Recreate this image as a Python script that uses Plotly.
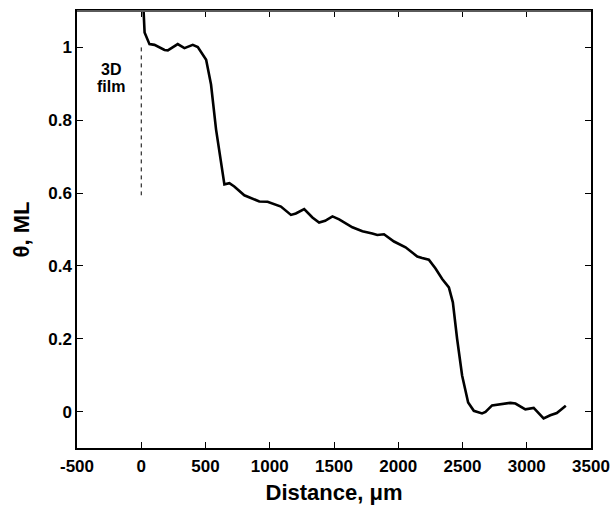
import plotly.graph_objects as go

distance_um = [5, 26, 64, 103, 181, 207, 284, 336, 401, 440, 505, 543, 582, 647, 686, 724,
               802, 867, 919, 983, 1087, 1165, 1203, 1268, 1332, 1384, 1431, 1488, 1540,
               1643, 1721, 1798, 1837, 1889, 1967, 2057, 2148, 2186, 2238, 2290, 2342,
               2394, 2425, 2458, 2497, 2544, 2588, 2652, 2679, 2730, 2795, 2873, 2912,
               2989, 3054, 3131, 3183, 3234, 3304]
theta_ml = [1.20, 1.041, 1.009, 1.007, 0.993, 0.992, 1.009, 0.998, 1.007, 1.001, 0.966,
            0.898, 0.775, 0.624, 0.627, 0.618, 0.594, 0.585, 0.577, 0.576, 0.563, 0.540,
            0.544, 0.556, 0.533, 0.519, 0.524, 0.536, 0.528, 0.506, 0.495, 0.489, 0.485,
            0.487, 0.467, 0.451, 0.426, 0.422, 0.417, 0.393, 0.364, 0.341, 0.300, 0.200,
            0.099, 0.025, 0.002, -0.005, -0.001, 0.017, 0.020, 0.024, 0.022, 0.006, 0.010,
            -0.019, -0.010, -0.004, 0.016]

film_x = [0, 0]
film_y = [1.0, 0.594]
film_lines = ["3D", "film"]
film_line_x = [-238, -238]
film_line_y = [0.939, 0.892]

x_ticks = [-500, 0, 500, 1000, 1500, 2000, 2500, 3000, 3500]
x_ticklabels = ["-500", "0", "500", "1000", "1500", "2000", "2500", "3000", "3500"]
y_ticks = [0, 0.2, 0.4, 0.6, 0.8, 1]
y_ticklabels = ["0", "0.2", "0.4", "0.6", "0.8", "1"]

font_fam = "Liberation Sans"

fig = go.Figure()
fig.add_trace(go.Scatter(x=film_x, y=film_y, mode="lines",
                         line=dict(color="black", width=1, dash="4px,4px"),
                         showlegend=False, hoverinfo="skip"))
fig.add_trace(go.Scatter(x=distance_um, y=theta_ml, mode="lines",
                         line=dict(color="black", width=2.6),
                         showlegend=False))

for txt, ax, ay in zip(film_lines, film_line_x, film_line_y):
    fig.add_annotation(x=ax, y=ay, text=txt, showarrow=False,
                       font=dict(family=font_fam, size=16, color="black", weight="bold"),
                       xanchor="center", yanchor="middle")

axis_font = dict(family=font_fam, size=17, color="black", weight="bold")
title_font = dict(family=font_fam, size=22, color="black", weight="bold")

fig.update_xaxes(range=[-500, 3500], tickvals=x_ticks, ticktext=x_ticklabels,
                 ticks="inside", ticklen=6, ticklabelstandoff=2, automargin=False,
                 tickcolor="black", showline=True, linecolor="black", linewidth=1.5,
                 mirror="ticks", showgrid=False, zeroline=False, tickfont=axis_font,
                 title=dict(text="Distance, μm", font=title_font, standoff=9))
fig.update_yaxes(range=[-0.1, 1.1], tickvals=y_ticks, ticktext=y_ticklabels,
                 ticks="inside", ticklen=6, tickcolor="black", showline=True,
                 linecolor="black", linewidth=1.5, mirror="ticks", showgrid=False,
                 zeroline=False, tickfont=axis_font, automargin=False,
                 title=dict(text="θ, ML", font=title_font, standoff=13))

fig.add_shape(type="line", xref="paper", yref="paper", x0=0, x1=1, y0=1, y1=1,
              line=dict(color="#5a5a5a", width=2), layer="above")

fig.update_layout(width=612, height=508, margin=dict(l=77, r=21, t=11, b=60),
                  plot_bgcolor="white", paper_bgcolor="white",
                  font=dict(family=font_fam, color="black"))

fig.write_html("out.html")
